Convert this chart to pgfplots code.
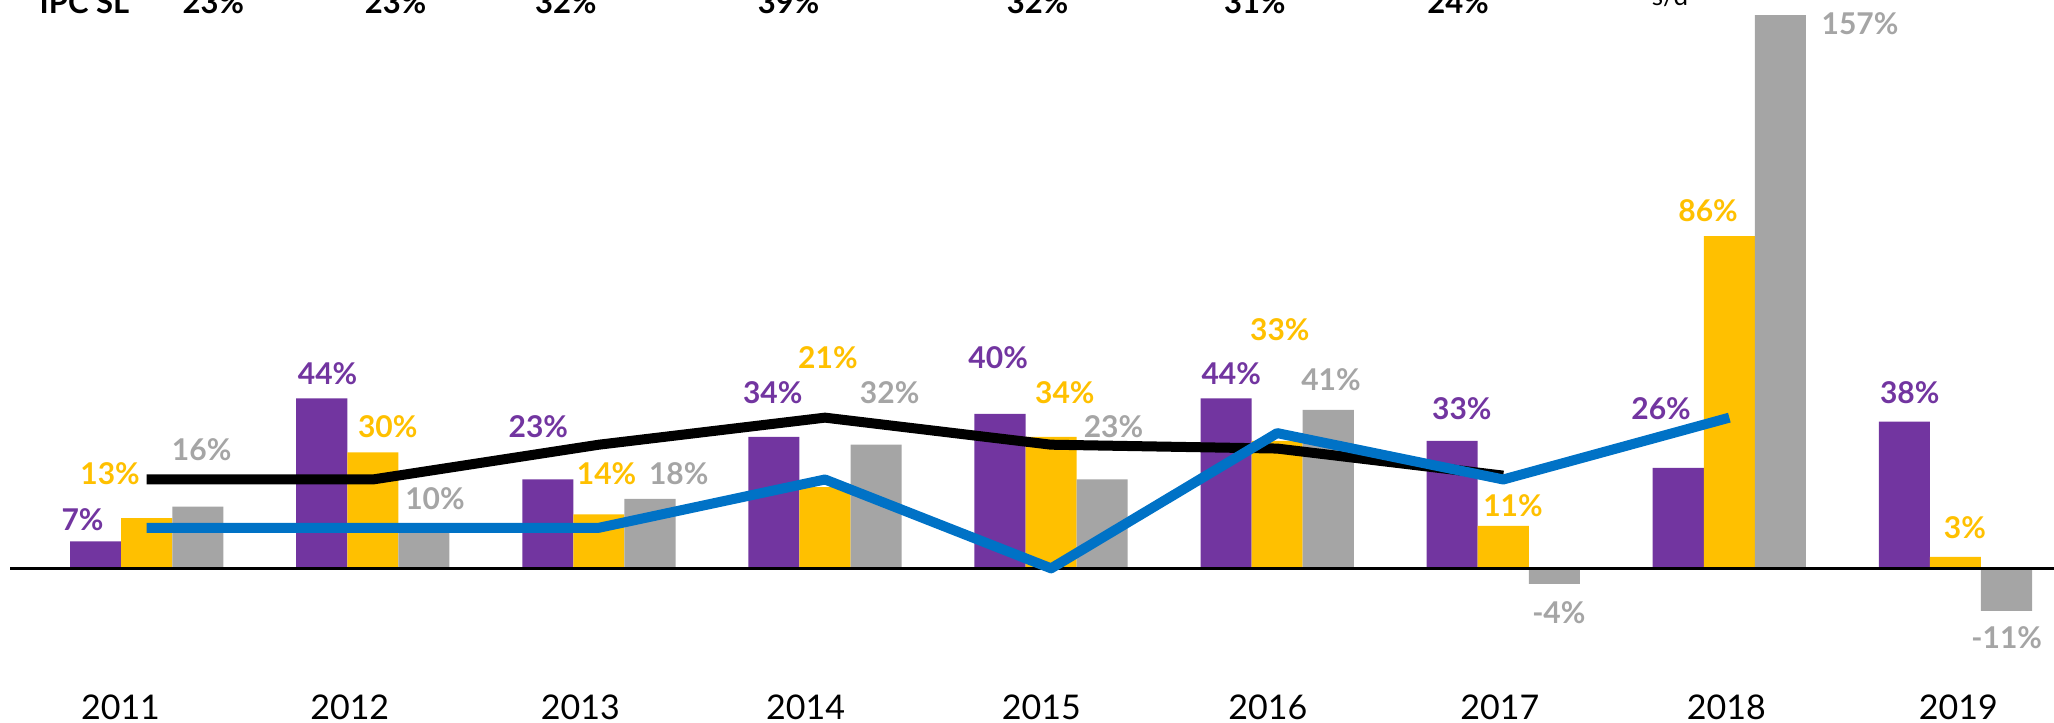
\documentclass[border=0pt]{standalone}
\usepackage{pgfplots}
\pgfplotsset{compat=1.18}
\usepackage{fontspec}
\setmainfont{Lato}

\definecolor{cPur}{RGB}{114,53,160}
\definecolor{cYel}{RGB}{255,192,0}
\definecolor{cGry}{RGB}{165,165,165}
\definecolor{cBlu}{RGB}{0,114,198}

\tikzset{
  lbl/.style={font=\fontsize{15}{18}\selectfont\bfseries, inner sep=0pt, anchor=center},
  yr/.style={font=\fontsize{17}{20}\selectfont, inner sep=0pt, anchor=center},
  top/.style={font=\fontsize{15.5}{18}\selectfont\bfseries, inner sep=0pt, anchor=base},
}

\begin{document}
\begin{tikzpicture}
\begin{axis}[
  scale only axis, width=1027pt, height=353.6pt,
  xmin=-0.649, xmax=8.436, ymin=-40, ymax=143,
  hide axis, clip=true,
  after end axis/.code={
    % bar value labels
    \node[lbl, cPur] at (axis cs:-0.284,12.5) {7\%};
    \node[lbl, cYel] at (axis cs:-0.162,24.4) {13\%};
    \node[lbl, cGry] at (axis cs:0.243,30.8) {16\%};
    \node[lbl, cPur] at (axis cs:0.800,50.5) {44\%};
    \node[lbl, cYel] at (axis cs:1.066,36.6) {30\%};
    \node[lbl, cGry] at (axis cs:1.275,18.0) {10\%};
    \node[lbl, cPur] at (axis cs:1.732,36.6) {23\%};
    \node[lbl, cYel] at (axis cs:2.034,24.4) {14\%};
    \node[lbl, cGry] at (axis cs:2.353,24.4) {18\%};
    \node[lbl, cPur] at (axis cs:2.769,45.4) {34\%};
    \node[lbl, cYel] at (axis cs:3.013,54.6) {21\%};
    \node[lbl, cGry] at (axis cs:3.286,45.4) {32\%};
    \node[lbl, cPur] at (axis cs:3.766,54.6) {40\%};
    \node[lbl, cYel] at (axis cs:4.061,45.4) {34\%};
    \node[lbl, cGry] at (axis cs:4.276,36.6) {23\%};
    \node[lbl, cPur] at (axis cs:4.797,50.5) {44\%};
    \node[lbl, cYel] at (axis cs:5.012,61.7) {33\%};
    \node[lbl, cGry] at (axis cs:5.238,48.8) {41\%};
    \node[lbl, cPur] at (axis cs:5.817,41.4) {33\%};
    \node[lbl, cYel] at (axis cs:6.043,16.3) {11\%};
    \node[lbl, cGry] at (axis cs:6.246,-11.5) {-4\%};
    \node[lbl, cPur] at (axis cs:6.698,41.4) {26\%};
    \node[lbl, cYel] at (axis cs:6.906,92.5) {86\%};
    \node[lbl, cGry] at (axis cs:7.578,141) {157\%};
    \node[lbl, cPur] at (axis cs:7.798,45.4) {38\%};
    \node[lbl, cYel] at (axis cs:8.042,10.5) {3\%};
    \node[lbl, cGry] at (axis cs:8.227,-18.0) {-11\%};
    % year labels
    \node[yr] at (axis cs:-0.116,-35.9) {2011};
    \node[yr] at (axis cs:0.898,-35.9) {2012};
    \node[yr] at (axis cs:1.918,-35.9) {2013};
    \node[yr] at (axis cs:2.914,-35.9) {2014};
    \node[yr] at (axis cs:3.957,-35.9) {2015};
    \node[yr] at (axis cs:4.959,-35.9) {2016};
    \node[yr] at (axis cs:5.985,-35.9) {2017};
    \node[yr] at (axis cs:6.987,-35.9) {2018};
    \node[yr] at (axis cs:8.013,-35.9) {2019};
    % IPC SL row (cut off at the top, as in the source)
    \node[top, anchor=base west] at (axis cs:-0.475,143.7) {IPC SL};
    \node[top] at (axis cs:0.295,143.7) {23\%};
    \node[top] at (axis cs:1.101,143.7) {23\%};
    \node[top] at (axis cs:1.854,143.7) {32\%};
    \node[top] at (axis cs:2.839,143.7) {39\%};
    \node[top] at (axis cs:3.940,143.7) {32\%};
    \node[top] at (axis cs:4.901,143.7) {31\%};
    \node[top] at (axis cs:5.800,143.7) {24\%};
    \node[font=\fontsize{13}{15}\selectfont, inner sep=0pt, anchor=base] at (axis cs:6.738,145.6) {s/d};
    \coordinate (bl) at (rel axis cs:0,0);
    \coordinate (tr) at (rel axis cs:1,1);
  },
]
\addplot[ybar, bar width=0.226, bar shift=-0.226, fill=cPur, draw=none]
  coordinates {(0,7) (1,44) (2,23) (3,34) (4,40) (5,44) (6,33) (7,26) (8,38)};
\addplot[ybar, bar width=0.226, bar shift=0, fill=cYel, draw=none]
  coordinates {(0,13) (1,30) (2,14) (3,21) (4,34) (5,33) (6,11) (7,86) (8,3)};
\addplot[ybar, bar width=0.226, bar shift=0.226, fill=cGry, draw=none]
  coordinates {(0,16) (1,10) (2,18) (3,32) (4,23) (5,41) (6,-4) (7,157) (8,-11)};
\draw[line width=1.6pt] (axis cs:-0.603,0) -- (axis cs:8.436,0);
% IPC SL
\addplot[black, line width=5pt, line join=round, no markers]
  coordinates {(0,23) (1,23) (2,32) (3,39) (4,32) (5,31) (6,24)};
\addplot[cBlu, line width=5pt, line join=round, no markers]
  coordinates {(0,10.5) (1,10.5) (2,10.5) (3,23) (4,0) (5,35) (6,23) (7,39)};
\end{axis}
\pgfresetboundingbox
\useasboundingbox (bl) rectangle ([yshift=7.86pt]tr);
\end{tikzpicture}
\end{document}
